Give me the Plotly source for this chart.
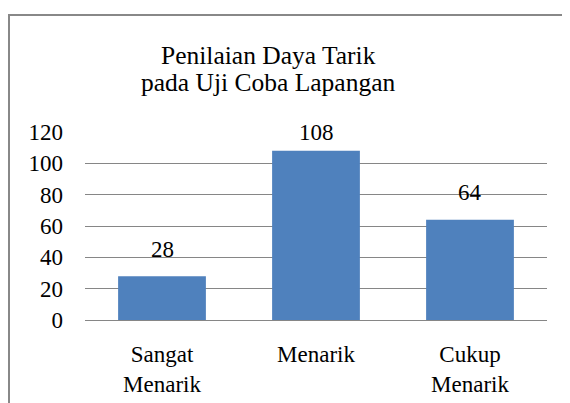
import plotly.graph_objects as go

categories = ["Sangat<br>Menarik", "Menarik", "Cukup<br>Menarik"]
values = [28, 108, 64]
y_ticks = [0, 20, 40, 60, 80, 100, 120]
title_lines = ["Penilaian Daya Tarik", "pada Uji Coba Lapangan"]

FONT = "Liberation Serif"
W, H = 562, 395
L, R, T, B = 77, 23, 124, 83
PH = H - T - B
PW = W - L - R
YMAX = 120

fig = go.Figure(go.Bar(
    x=categories, y=values,
    marker=dict(color="#4F81BD", line=dict(width=0)),
    width=0.57,
    cliponaxis=False,
))

for c, v in zip(categories, values):
    shift = min(27, (YMAX - v) * PH / YMAX)
    fig.add_annotation(x=c, y=v, text=str(v), showarrow=False,
                       yanchor="middle", yshift=shift,
                       font=dict(family=FONT, size=23, color="#000000"))

# title as two lines (figure-pixel centres 47 and 75)
for line, fy in zip(title_lines, [47, 75]):
    fig.add_annotation(xref="paper", yref="paper",
                       x=(260 - L) / PW, y=(PH - (fy - T)) / PH,
                       xanchor="center", yanchor="middle",
                       text=line, showarrow=False,
                       font=dict(family=FONT, size=25.5, color="#000000"))

fig.update_layout(
    width=W, height=H,
    margin=dict(l=L, r=R, t=T, b=B, autoexpand=False),
    paper_bgcolor="white", plot_bgcolor="white",
    font=dict(family=FONT, size=23, color="#000000"),
    showlegend=False,
)
fig.update_yaxes(range=[0, YMAX], tickvals=y_ticks, showgrid=True,
                 gridcolor="#868686", gridwidth=1, zeroline=False,
                 showline=False, ticks="", ticklabelstandoff=21,
                 automargin=False,
                 tickfont=dict(family=FONT, size=23))
fig.update_xaxes(showline=True, linecolor="#868686", linewidth=1,
                 ticks="", ticklabelstandoff=13, automargin=False,
                 tickfont=dict(family=FONT, size=23))

fig.add_shape(type="rect", xref="paper", yref="paper",
              x0=(1 - L) / PW, x1=(W + 20 - L) / PW,
              y0=(PH - (H + 20 - T)) / PH, y1=(PH - (7 - T)) / PH,
              line=dict(color="#888888", width=2), layer="below")

fig.write_html("out.html")
